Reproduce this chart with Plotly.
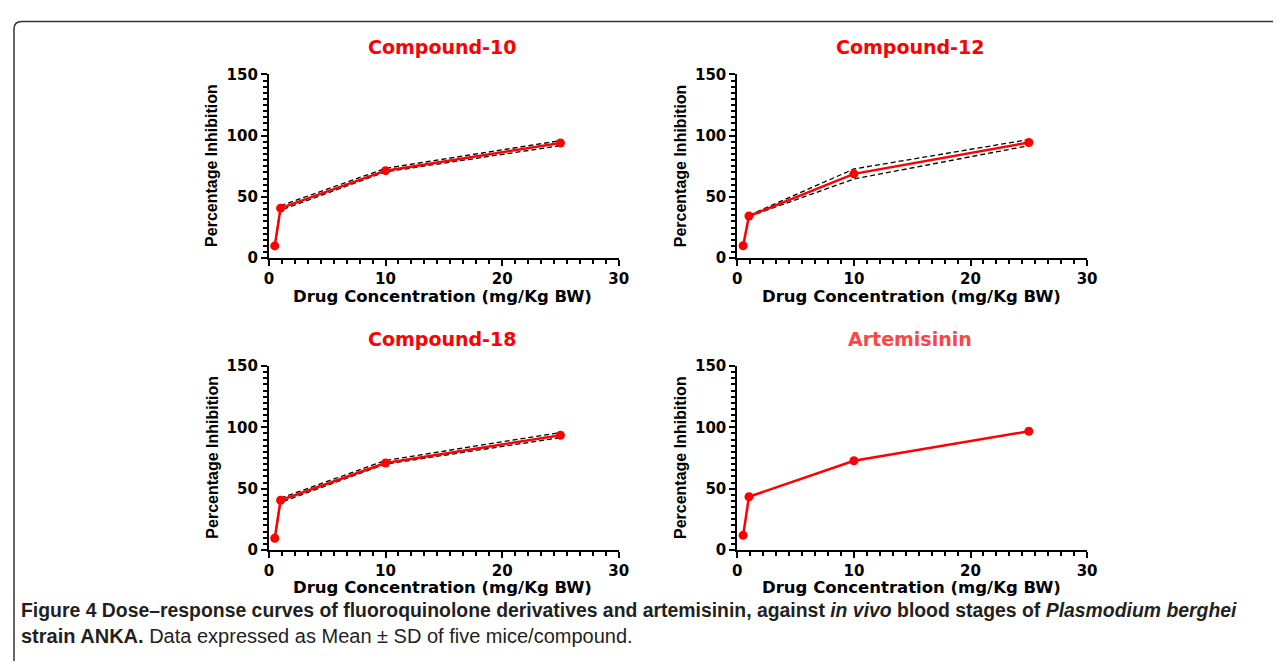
import plotly.graph_objects as go

# page body has an 8px margin; keep the figure inside the 1281x669 viewport
OFF = 8
W, H = 1281 - 2 * OFF, 669 - 2 * OFF

doses = [0.5, 1, 10, 25]

titles = ["Compound-10", "Compound-12", "Compound-18", "Artemisinin"]
title_colors = ["#ff0000", "#ff0000", "#ff0000", "#ff4444"]

mean_c10 = [10.0, 40.8, 71.4, 94.0]
upper_c10 = [10.5, 42.8, 73.3, 95.9]
lower_c10 = [9.5, 39.2, 70.4, 91.8]

mean_c12 = [10.1, 34.4, 68.8, 94.4]
upper_c12 = [35.0, 72.8, 96.8]
lower_c12 = [34.0, 64.6, 91.8]

mean_c18 = [9.5, 40.5, 70.9, 93.6]
upper_c18 = [10.0, 42.2, 73.0, 95.8]
lower_c18 = [9.0, 38.8, 70.0, 91.6]

mean_art = [11.9, 43.4, 72.8, 96.8]

x_ticks = [0, 10, 20, 30]
y_ticks = [0, 50, 100, 150]

x_title = "Drug Concentration (mg/Kg BW)"
y_title = "Percentage Inhibition"

caption_1 = ("<b>Figure 4 Dose–response curves of fluoroquinolone derivatives and artemisinin, "
             "against <i>in vivo</i> blood stages of <i>Plasmodium berghei</i></b>")
caption_2 = "<b>strain ANKA.</b> Data expressed as Mean ± SD of five mice/compound."


def sx(p):
    return (p - OFF) / W


def sy(p):
    return 1 - (p - OFF) / H


# panel screen-pixel boxes: (left, right, top, bottom)
boxes = [(267, 621, 67, 256), (741, 1095, 67, 256),
         (267, 621, 367, 556), (741, 1095, 367, 556)]

panels = [
    (mean_c10, doses, upper_c10, lower_c10),
    (mean_c12, doses[1:], upper_c12, lower_c12),
    (mean_c18, doses, upper_c18, lower_c18),
    (mean_art, None, None, None),
]

fig = go.Figure()

tick_font = dict(family="DejaVu Sans", size=15, color="black", weight="bold")

for i, (box, (mean, bx, up, lo)) in enumerate(zip(boxes, panels)):
    n = i + 1
    xa = "x" if n == 1 else f"x{n}"
    ya = "y" if n == 1 else f"y{n}"
    l, r, t, b = box
    axis_common = dict(
        showgrid=False, zeroline=False, showline=True, linecolor="black",
        linewidth=2, ticks="outside", ticklen=6, tickwidth=2, tickcolor="black",
        tickfont=tick_font,
    )
    fig.update_layout(**{
        ("xaxis" if n == 1 else f"xaxis{n}"): dict(
            domain=[sx(l), sx(r)], anchor=ya, range=[0, 30],
            tickvals=x_ticks, ticktext=[str(v) for v in x_ticks],
            minor=dict(dtick=10 / 9, tick0=0, ticks="outside", ticklen=4,
                       tickwidth=1.5, tickcolor="black"),
            **axis_common),
        ("yaxis" if n == 1 else f"yaxis{n}"): dict(
            domain=[sy(b), sy(t)], anchor=xa, range=[0, 150],
            tickvals=y_ticks, ticktext=[str(v) for v in y_ticks],
            minor=dict(dtick=5, tick0=0, ticks="outside", ticklen=4,
                       tickwidth=1.5, tickcolor="black"),
            **axis_common),
    })
    if up is not None:
        for band in (up, lo):
            fig.add_trace(go.Scatter(
                x=bx, y=band, mode="lines", xaxis=xa, yaxis=ya,
                line=dict(color="black", width=1.3, dash="5px,3px"),
                showlegend=False, hoverinfo="skip", cliponaxis=False))
    fig.add_trace(go.Scatter(
        x=doses, y=mean, mode="lines+markers", xaxis=xa, yaxis=ya,
        line=dict(color="#ff0000", width=2.5),
        marker=dict(color="#ff0000", size=9, symbol="circle"),
        showlegend=False, cliponaxis=False))

    # panel title
    fig.add_annotation(text=f"<b>{titles[i]}</b>", x=sx(l + 175), y=sy(t - 28),
                       xref="paper", yref="paper", showarrow=False,
                       xanchor="center", yanchor="middle",
                       font=dict(family="DejaVu Sans", size=19, color=title_colors[i]))
    # x-axis title
    fig.add_annotation(text=f"<b>{x_title}</b>", x=sx(l + 176), y=sy(b + 39),
                       xref="paper", yref="paper", showarrow=False,
                       xanchor="center", yanchor="middle",
                       font=dict(family="DejaVu Sans", size=16.5, color="black"))
    # y-axis title
    fig.add_annotation(text=f"<b>{y_title}</b>", x=sx(l - 58), y=sy((t + b) / 2 - 1),
                       xref="paper", yref="paper", showarrow=False, textangle=-90,
                       xanchor="center", yanchor="middle",
                       font=dict(family="Liberation Sans", size=16, color="black"))

# caption
fig.add_annotation(text=caption_1, x=sx(14), y=sy(618), xref="paper", yref="paper",
                   xanchor="left", yanchor="middle", showarrow=False,
                   font=dict(family="Liberation Sans", size=19.4, color="#231f20"))
fig.add_annotation(text=caption_2, x=sx(14), y=sy(645), xref="paper", yref="paper",
                   xanchor="left", yanchor="middle", showarrow=False,
                   font=dict(family="Liberation Sans", size=20, color="#231f20"))

# frame with rounded top-left corner
fig.add_shape(type="path", xref="paper", yref="paper",
              path=(f"M {sx(9)},{sy(700)} L {sx(9)},{sy(20)} "
                    f"Q {sx(9)},{sy(12.5)} {sx(17)},{sy(12.5)} L {sx(1300)},{sy(12.5)}"),
              line=dict(color="#333333", width=1.5))

fig.update_layout(width=W, height=H, autosize=False,
                  margin=dict(l=0, r=0, t=0, b=0),
                  paper_bgcolor="white", plot_bgcolor="white")

fig.write_html("out.html")
